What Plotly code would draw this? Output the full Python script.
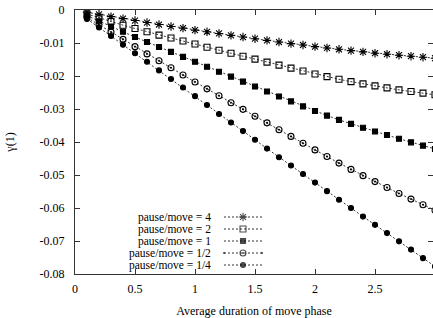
import plotly.graph_objects as go

# ---------------- data ----------------
duration = [0.1, 0.2, 0.3, 0.4, 0.5, 0.6, 0.7, 0.8, 0.9, 1.0,
            1.1, 1.2, 1.3, 1.4, 1.5, 1.6, 1.7, 1.8, 1.9, 2.0,
            2.1, 2.2, 2.3, 2.4, 2.5, 2.6, 2.7, 2.8, 2.9, 3.0]

ratio_4 = [-0.0007, -0.0013, -0.0020, -0.0026, -0.0032, -0.0038, -0.0044, -0.0050, -0.0055, -0.0061,
           -0.0066, -0.0071, -0.0077, -0.0082, -0.0087, -0.0092, -0.0097, -0.0102, -0.0106, -0.0111,
           -0.0115, -0.0119, -0.0123, -0.0127, -0.0131, -0.0134, -0.0137, -0.0140, -0.0143, -0.0146]

ratio_2 = [-0.0012, -0.0024, -0.0035, -0.0046, -0.0056, -0.0066, -0.0076, -0.0085, -0.0094, -0.0103,
           -0.0113, -0.0122, -0.0131, -0.0140, -0.0149, -0.0158, -0.0167, -0.0176, -0.0185, -0.0194,
           -0.0202, -0.0210, -0.0217, -0.0224, -0.0230, -0.0236, -0.0242, -0.0247, -0.0252, -0.0257]

ratio_1 = [-0.0017, -0.0034, -0.0050, -0.0066, -0.0082, -0.0097, -0.0112, -0.0127, -0.0142, -0.0157,
           -0.0172, -0.0187, -0.0202, -0.0217, -0.0232, -0.0247, -0.0262, -0.0277, -0.0292, -0.0306,
           -0.0320, -0.0333, -0.0345, -0.0357, -0.0368, -0.0379, -0.0390, -0.0401, -0.0411, -0.0421]

ratio_half = [-0.0023, -0.0045, -0.0067, -0.0089, -0.0111, -0.0133, -0.0154, -0.0175, -0.0197, -0.0218,
              -0.0239, -0.0260, -0.0281, -0.0301, -0.0322, -0.0342, -0.0363, -0.0383, -0.0404, -0.0424,
              -0.0444, -0.0464, -0.0483, -0.0502, -0.0520, -0.0538, -0.0556, -0.0573, -0.0590, -0.0607]

ratio_quarter = [-0.0027, -0.0053, -0.0079, -0.0105, -0.0131, -0.0157, -0.0183, -0.0209, -0.0235, -0.0261,
                 -0.0288, -0.0315, -0.0341, -0.0367, -0.0393, -0.0420, -0.0446, -0.0471, -0.0497, -0.0523,
                 -0.0549, -0.0575, -0.0600, -0.0626, -0.0651, -0.0676, -0.0701, -0.0726, -0.0752, -0.0777]

series_names = ["pause/move = 4", "pause/move = 2", "pause/move = 1",
                "pause/move = 1/2", "pause/move = 1/4"]
series_values = [ratio_4, ratio_2, ratio_1, ratio_half, ratio_quarter]

x_tick_vals = [0, 0.5, 1, 1.5, 2, 2.5]
x_tick_text = ["0", "0.5", "1", "1.5", "2", "2.5"]
y_tick_vals = [0, -0.01, -0.02, -0.03, -0.04, -0.05, -0.06, -0.07, -0.08]
y_tick_text = ["0", "-0.01", "-0.02", "-0.03", "-0.04", "-0.05", "-0.06", "-0.07", "-0.08"]

x_title = "Average duration of move phase"
y_title = "γ(1)"

# ---------------- style ----------------
W, H = 433, 318
ML, MR, MT, MB = 75, 0, 10, 44
plot_w = W - ML - MR
plot_h = H - MT - MB
PX_PER_UNIT = 120.0
x_max = plot_w / PX_PER_UNIT

FONT = "Liberation Serif"
symbols = ["asterisk-open", "square-open", "square", "circle-open-dot", "circle"]
sizes = [7, 6, 5, 6, 5]
AX = "#333333"

fig = go.Figure()
for name, vals, sym, sz in zip(series_names, series_values, symbols, sizes):
    fig.add_trace(go.Scatter(
        x=duration, y=vals, mode="lines+markers", name=name,
        line=dict(color="black", width=0.8, dash="2px,2px"),
        marker=dict(symbol=sym, size=sz, color="black",
                    line=dict(color="black", width=1.1)),
        showlegend=False, cliponaxis=True,
    ))

# ---- gnuplot-style key: text right-aligned, sample on the right ----
key_text_right = 213
key_line_x0, key_line_x1 = 224, 262
key_row0, key_row_step = 217, 12

def px2paper_x(px):
    return (px - ML) / plot_w

def py2paper_y(py):
    return (H - MB - py) / plot_h

for i, (name, sym, sz) in enumerate(zip(series_names, symbols, sizes)):
    yy = py2paper_y(key_row0 + i * key_row_step)
    fig.add_annotation(x=px2paper_x(key_text_right), y=yy, xref="paper", yref="paper",
                       text=name, showarrow=False, xanchor="right", yanchor="middle",
                       font=dict(family=FONT, size=11.5, color="black"))
    xa, xb = px2paper_x(key_line_x0), px2paper_x(key_line_x1)
    fig.add_trace(go.Scatter(
        x=[xa, (xa + xb) / 2, xb], y=[yy, yy, yy], xaxis="x2", yaxis="y2",
        mode="lines+markers", showlegend=False, hoverinfo="skip",
        line=dict(color="black", width=0.8, dash="2px,2px"),
        marker=dict(symbol=sym, size=[0, sz, 0], color="black",
                    line=dict(color="black", width=1.1)),
    ))

fig.update_layout(
    width=W, height=H,
    margin=dict(l=ML, r=MR, t=MT, b=MB, pad=0),
    paper_bgcolor="white", plot_bgcolor="white",
    font=dict(family=FONT, size=12, color="black"),
    showlegend=False,
    xaxis=dict(range=[0, x_max], tickvals=x_tick_vals, ticktext=x_tick_text,
               ticks="inside", ticklen=5, tickwidth=1, tickcolor=AX,
               showline=True, linecolor=AX, linewidth=1, mirror="ticks",
               showgrid=False, zeroline=False, ticklabelstandoff=4,
               tickfont=dict(family=FONT, size=12, color="black"),
               title=dict(text=x_title, standoff=11,
                          font=dict(family=FONT, size=12, color="black"))),
    yaxis=dict(range=[-0.08, 0], tickvals=y_tick_vals, ticktext=y_tick_text,
               ticks="inside", ticklen=5, tickwidth=1, tickcolor=AX,
               showline=True, linecolor=AX, linewidth=1, mirror="ticks",
               showgrid=False, zeroline=False, ticklabelstandoff=7,
               tickfont=dict(family=FONT, size=12, color="black"),
               title=dict(text=y_title, standoff=22,
                          font=dict(family=FONT, size=12, color="black"))),
    xaxis2=dict(overlaying="x", range=[0, 1], visible=False, fixedrange=True),
    yaxis2=dict(overlaying="y", range=[0, 1], visible=False, fixedrange=True),
)

fig.write_html(
    "out.html",
    config={"displayModeBar": False},
    post_script="document.body.style.margin='0px';document.body.style.overflow='hidden';",
)
